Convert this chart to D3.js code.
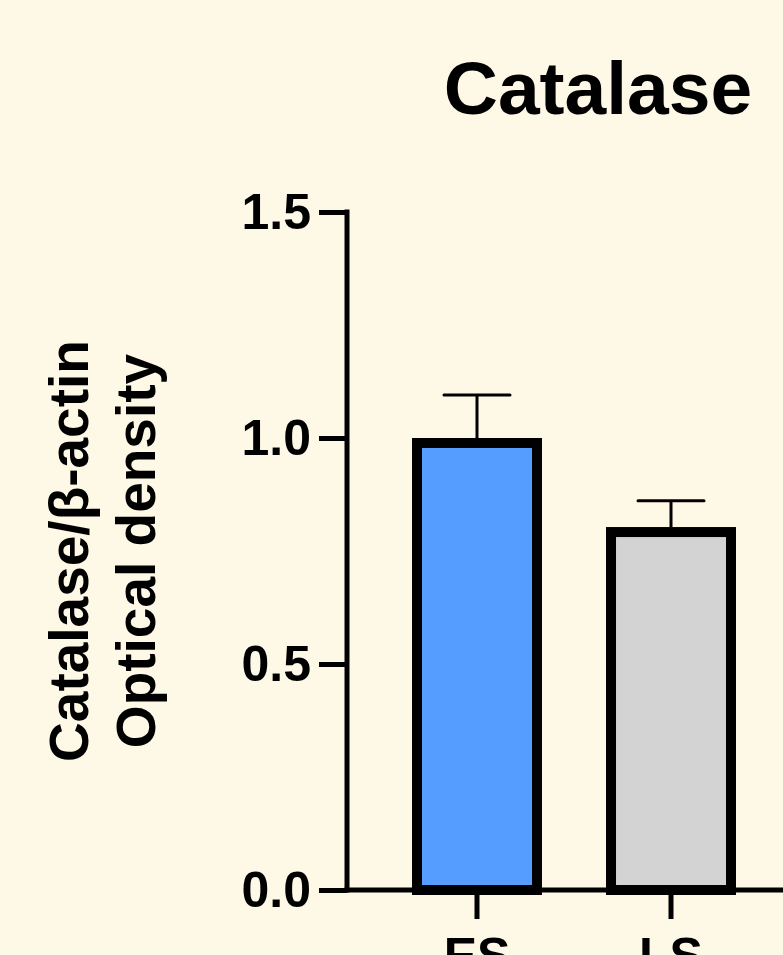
<!DOCTYPE html>
<html>
<head>
<meta charset="utf-8">
<script src="https://cdn.jsdelivr.net/npm/d3@7"></script>
<style>
  html, body { margin: 0; padding: 0; background: #FEF8E6; }
  svg { display: block; }
  text { font-family: "Liberation Sans", Arial, Helvetica, sans-serif; font-weight: bold; fill: #000; }
</style>
</head>
<body>
<script>
// Catalase / β-actin optical density, mean ± SEM per group
const groups = ["ES", "LS"];
const means = [1.0, 0.803];
const errors = [0.095, 0.058];
const fills = ["#559EFF", "#D3D3D3"];
const yTicks = [0, 0.5, 1.0, 1.5];

const W = 783, H = 955;
const svg = d3.select("body").append("svg").attr("width", W).attr("height", H);
svg.append("rect").attr("width", W).attr("height", H).attr("fill", "#FEF8E6");

const y = d3.scaleLinear().domain([0, 1.5]).range([890, 212]);
const x = d3.scaleBand().domain(groups).range([347, 801]).paddingInner(0.33).paddingOuter(0.335);

const axisW = 5, barW = 10;

// Bars with the outline drawn inside the bar's extent
const bars = svg.append("g");
groups.forEach((g, i) => {
  bars.append("rect")
    .attr("x", x(g) + barW / 2)
    .attr("y", y(means[i]) + barW / 2)
    .attr("width", x.bandwidth() - barW)
    .attr("height", y(0) - y(means[i]) - barW / 2)
    .attr("fill", fills[i])
    .attr("stroke", "#000")
    .attr("stroke-width", barW);
});

// Upper error bars
const errG = svg.append("g").attr("stroke", "#000").attr("stroke-width", 3);
groups.forEach((g, i) => {
  const cx = x(g) + x.bandwidth() / 2;
  errG.append("line").attr("x1", cx).attr("x2", cx)
    .attr("y1", y(means[i])).attr("y2", y(means[i] + errors[i]));
  errG.append("line").attr("x1", cx - 33).attr("x2", cx + 33)
    .attr("y1", y(means[i] + errors[i])).attr("y2", y(means[i] + errors[i]))
    .attr("stroke-linecap", "round");
});

// Y axis
const yAxis = svg.append("g").attr("transform", "translate(347,0)")
  .call(d3.axisLeft(y).tickValues(yTicks).tickFormat(d3.format(".1f"))
    .tickSize(28).tickSizeOuter(0).tickPadding(8));
// X axis
const xAxis = svg.append("g").attr("transform", "translate(0,890)")
  .call(d3.axisBottom(x).tickSize(29).tickSizeOuter(0).tickPadding(18));

[yAxis, xAxis].forEach(a => {
  a.select(".domain").attr("stroke", "#000").attr("stroke-width", axisW).attr("stroke-linecap", "square");
  a.selectAll(".tick line").attr("stroke", "#000").attr("stroke-width", axisW);
  a.selectAll("text").attr("font-size", 50).attr("font-family", null).attr("fill", "#000");
});
yAxis.select(".domain").attr("d", `M0,${y(1.5)}V${y(0)}`);
xAxis.select(".domain").attr("d", "M347,0H801");

// Title
svg.append("text").attr("x", 598).attr("y", 114).attr("text-anchor", "middle")
  .attr("font-size", 75).text("Catalase");

// Y axis title, two lines
const yTitle = svg.append("text").attr("transform", "translate(88,551) rotate(-90)")
  .attr("text-anchor", "middle").attr("font-size", 55);
yTitle.append("tspan").attr("x", 0).attr("y", 0).text("Catalase/β-actin");
yTitle.append("tspan").attr("x", 0).attr("y", 67).text("Optical density");
</script>
</body>
</html>
